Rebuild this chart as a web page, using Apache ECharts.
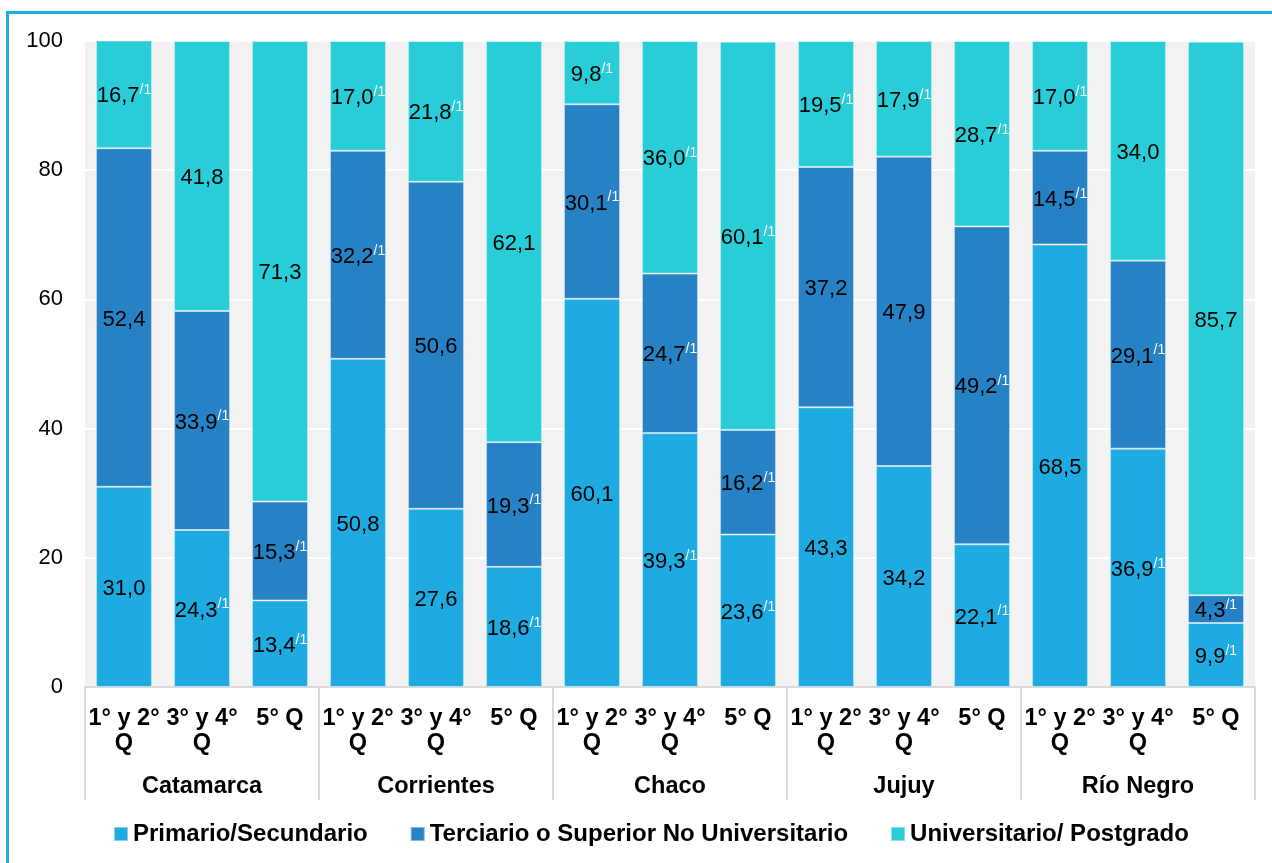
<!DOCTYPE html>
<html>
<head>
<meta charset="utf-8">
<script src="https://cdn.jsdelivr.net/npm/echarts@6/dist/echarts.min.js"></script>
<style>
html,body{margin:0;padding:0;background:#fff;overflow:hidden;}
#frame{position:absolute;left:6px;top:11px;width:3000px;height:3000px;border-left:3px solid #1eaee4;border-top:3px solid #1eaee4;}
#chart{position:absolute;left:0;top:0;width:1272px;height:863px;}
</style>
</head>
<body>
<div id="frame"></div>
<div id="chart"></div>
<script>
const quintiles = ['1° y 2°\nQ', '3° y 4°\nQ', '5° Q'];
const provinces = ['Catamarca', 'Corrientes', 'Chaco', 'Jujuy', 'Río Negro'];
const seriesNames = ['Primario/Secundario', 'Terciario o Superior No Universitario', 'Universitario/ Postgrado'];

const primario      = [31.0, 24.3, 13.4, 50.8, 27.6, 18.6, 60.1, 39.3, 23.6, 43.3, 34.2, 22.1, 68.5, 36.9, 9.9];
const terciario     = [52.4, 33.9, 15.3, 32.2, 50.6, 19.3, 30.1, 24.7, 16.2, 37.2, 47.9, 49.2, 14.5, 29.1, 4.3];
const universitario = [16.7, 41.8, 71.3, 17.0, 21.8, 62.1, 9.8, 36.0, 60.1, 19.5, 17.9, 28.7, 17.0, 34.0, 85.7];

// 1 = value carries the "/1" note
const primarioNote      = [0,1,1, 0,0,1, 0,1,1, 0,0,1, 0,1,1];
const terciarioNote     = [0,1,1, 1,0,1, 1,1,1, 0,0,1, 1,1,1];
const universitarioNote = [1,0,0, 1,1,0, 1,1,1, 1,1,1, 1,0,0];

const categories = [];
provinces.forEach(() => quintiles.forEach(q => categories.push(q)));

const colors = ['#1eabe2', '#2682c5', '#29cdd8'];
const values = [primario, terciario, universitario];
const notes = [primarioNote, terciarioNote, universitarioNote];

const chart = echarts.init(document.getElementById('chart'));
const series = values.map((vals, si) => ({
  name: seriesNames[si],
  type: 'bar',
  stack: 'total',
  barWidth: '72%',
  data: vals,
  itemStyle: { color: colors[si], borderColor: 'rgba(255,255,255,0.45)', borderWidth: 1 },
  label: {
    show: true,
    position: 'inside',
    offset: [0, 2],
    formatter: p => {
      const txt = p.value.toFixed(1).replace('.', ',');
      return notes[si][p.dataIndex] ? '{v|' + txt + '}{n|/1}' : '{v|' + txt + '}';
    },
    rich: {
      v: { fontFamily: 'Liberation Sans', fontSize: 22, lineHeight: 26, color: '#000' },
      n: { fontFamily: 'Liberation Sans', fontSize: 14, lineHeight: 16, color: '#fff', verticalAlign: 'top' }
    }
  }
}));

chart.setOption({
  animation: false,
  textStyle: { fontFamily: 'Liberation Sans' },
  grid: { left: 85, right: 17, top: 41, bottom: 176, show: true, backgroundColor: '#f2f2f2', borderWidth: 0 },
  legend: {
    data: seriesNames,
    top: 817,
    left: 108,
    icon: 'rect',
    itemWidth: 14,
    itemHeight: 14,
    itemGap: 42,
    textStyle: { fontFamily: 'Liberation Sans', fontSize: 24, fontWeight: 'bold', color: '#000' }
  },
  xAxis: [
    {
      type: 'category',
      data: categories,
      axisLine: { show: true, lineStyle: { color: '#d9d9d9', width: 2 } },
      axisTick: { show: false },
      axisLabel: { interval: 0, fontFamily: 'Liberation Sans', fontSize: 23.5, fontWeight: 'bold', color: '#000', lineHeight: 25, margin: 19 }
    },
    {
      type: 'category',
      data: provinces,
      position: 'bottom',
      axisLine: { show: true, lineStyle: { color: '#d9d9d9', width: 2 } },
      axisTick: { show: true, length: 113, lineStyle: { color: '#d9d9d9', width: 2 } },
      axisLabel: { interval: 0, fontFamily: 'Liberation Sans', fontSize: 23.5, fontWeight: 'bold', color: '#000', margin: 88 }
    }
  ],
  yAxis: {
    type: 'value',
    min: 0,
    max: 100,
    interval: 20,
    axisLine: { show: false },
    axisTick: { show: false },
    axisLabel: { fontFamily: 'Liberation Sans', fontSize: 22, color: '#000', margin: 22 },
    splitLine: { lineStyle: { color: '#ffffff', width: 2 } }
  },
  series: series
});
</script>
</body>
</html>
